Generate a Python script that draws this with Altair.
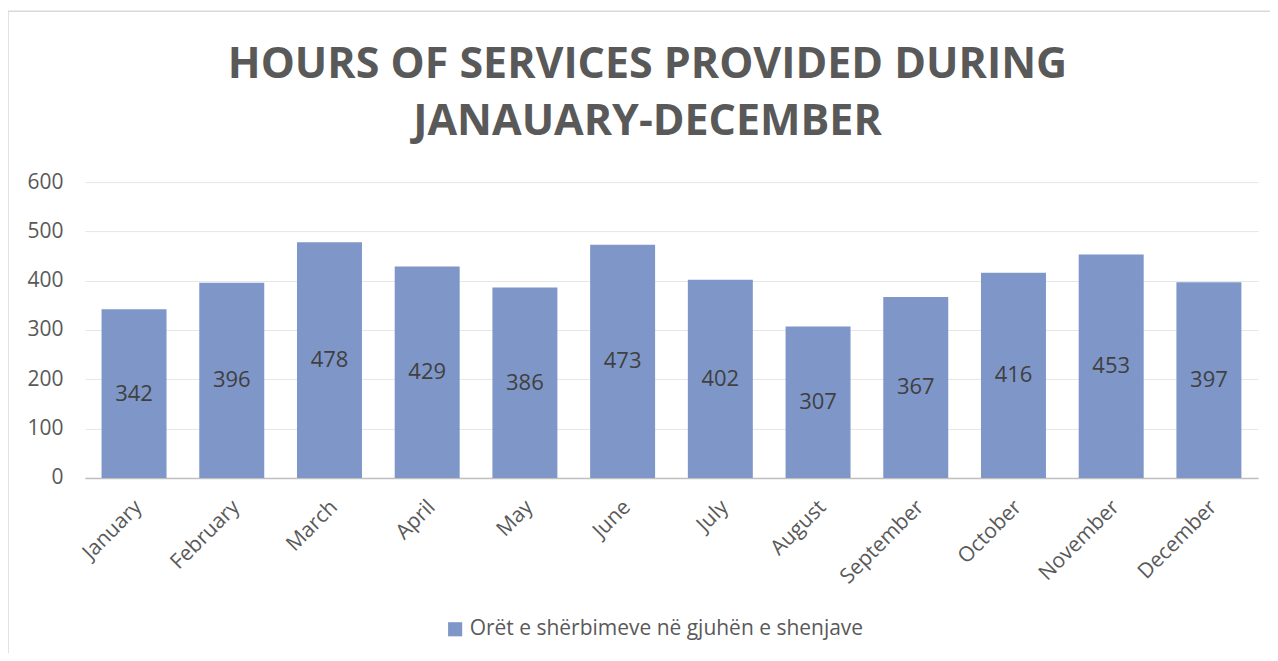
import altair as alt
import pandas as pd

months = ["January", "February", "March", "April", "May", "June", "July",
          "August", "September", "October", "November", "December"]
hours = [342, 396, 478, 429, 386, 473, 402, 307, 367, 416, 453, 397]
series_name = "Orët e shërbimeve në gjuhën e shenjave"
y_ticks = [0, 100, 200, 300, 400, 500, 600]
title_lines = ["HOURS OF SERVICES PROVIDED DURING", "JANAUARY-DECEMBER"]

df = pd.DataFrame({"month": months, "hours": hours, "series": [series_name] * len(months)})

W, H = 1174, 296
FONT = "Open Sans"
GRAY = "#595959"

base = alt.Chart(df)

bars = base.mark_bar(color="#7F96C8").encode(
    x=alt.X("month:N", sort=months, title=None,
            scale=alt.Scale(paddingInner=0.335, paddingOuter=0.17),
            axis=alt.Axis(labelAngle=-45, labelFontSize=21, labelColor=GRAY,
                          labelFont=FONT, domainColor="#BFBFBF", domainWidth=1.5,
                          ticks=False, labelPadding=18, labelOffset=-3)),
    y=alt.Y("hours:Q", title=None,
            scale=alt.Scale(domain=[0, 600], nice=False),
            axis=alt.Axis(values=y_ticks, labelFontSize=21, labelColor=GRAY,
                          labelFont=FONT, domain=False, ticks=False,
                          gridColor="#E6E6E6", labelPadding=22)),
    color=alt.Color("series:N", title=None,
                    scale=alt.Scale(domain=[series_name], range=["#7F96C8"]),
                    legend=alt.Legend(orient="none", legendX=360, legendY=437,
                                      symbolType="square", symbolSize=200,
                                      labelFontSize=21, labelColor=GRAY,
                                      labelFont=FONT, symbolStrokeWidth=0,
                                      labelLimit=0)),
)

labels = base.transform_calculate(mid="datum.hours / 2").mark_text(
    fontSize=22, color="#404040", font=FONT
).encode(
    x=alt.X("month:N", sort=months),
    y=alt.Y("mid:Q"),
    text=alt.Text("hours:Q"),
)

border = alt.Chart(pd.DataFrame({"a": [0]})).mark_rect(
    fill=None, stroke="#D9D9D9", strokeWidth=1.5, clip=False
).encode(
    x=alt.value(-77), x2=alt.value(1260), y=alt.value(-171), y2=alt.value(560)
)

title1 = alt.Chart(pd.DataFrame({"a": [0]})).mark_text(
    text=title_lines[0], fontSize=43, font=FONT, fontWeight="bold", color=GRAY,
    align="center", baseline="alphabetic", clip=False
).encode(x=alt.value(563), y=alt.value(-104))

title2 = alt.Chart(pd.DataFrame({"a": [0]})).mark_text(
    text=title_lines[1], fontSize=43, font=FONT, fontWeight="bold", color=GRAY,
    align="center", baseline="alphabetic", clip=False
).encode(x=alt.value(563), y=alt.value(-47))

chart = alt.layer(bars, labels, border, title1, title2).properties(
    width=W, height=H,
    autosize=alt.AutoSizeParams(type="none"),
    padding={"left": 77, "top": 174, "right": 12, "bottom": 175},
).configure_view(stroke=None)

chart.save("out.html", embed_options={"renderer": "svg", "actions": False})
